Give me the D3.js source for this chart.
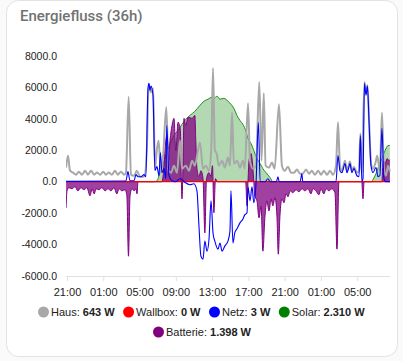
<!DOCTYPE html>
<html><head><meta charset="utf-8">
<script src="https://cdn.jsdelivr.net/npm/d3@7"></script>
<style>
html,body{margin:0;padding:0;background:#fafafa;}
svg{display:block;}
</style></head>
<body>
<svg id="chart" width="403" height="361"></svg>
<script>
// ---- DATA (time in hours after 21:00 of day 1, value in W) ----
const title = "Energiefluss (36h)";
const yTicks = [8000, 6000, 4000, 2000, 0, -2000, -4000, -6000];
const xTickHours = [0, 4, 8, 12, 16, 20, 24, 28, 32];
const xTickLabels = ["21:00","01:00","05:00","09:00","13:00","17:00","21:00","01:00","05:00"];

const seriesNames = ["Haus", "Wallbox", "Netz", "Solar", "Batterie"];
const seriesColors = ["#a8a8a8", "#ff0000", "#0000ff", "#008000", "#800080"];
const legendValues = ["643 W", "0 W", "3 W", "2.310 W", "1.398 W"];

const hausData = [
[-0.1,900],[0.11,1660],[0.33,700],[0.66,580],[1.0,450],[1.3,640],[1.65,450],[2.0,700],[2.3,450],[2.65,700],
[3.0,450],[3.3,580],[3.65,450],[4.0,640],[4.3,450],[4.6,580],[4.95,450],[5.3,700],[5.6,450],[5.95,640],
[6.3,450],[6.5,580],[6.8,5400],[7.05,450],[7.4,380],[7.7,700],[8.05,320],[8.5,320],[8.8,2000],[9.0,6200],
[9.26,5700],[9.5,5950],[9.7,830],[9.9,2000],[10.1,2600],[10.35,600],[10.6,1650],[10.95,4740],[11.2,700],
[11.47,576],[11.8,1020],[12.13,576],[12.46,2620],[12.68,830],[13.1,1020],[13.45,700],[13.8,1340],[14.1,1020],
[14.44,1980],[14.66,2500],[15.0,830],[15.3,1020],[15.65,700],[15.9,2000],[16.1,7230],[16.3,2000],[16.5,1790],
[16.75,1020],[17.1,1340],[17.4,900],[17.75,1540],[17.97,1020],[18.2,4400],[18.4,1150],[18.75,1340],[19.07,900],
[19.4,1340],[19.6,830],[19.96,5000],[20.18,1340],[20.5,830],[20.84,1020],[21.2,6340],[21.45,1340],[21.7,5630],
[21.9,1020],[22.27,900],[22.6,1220],[22.9,830],[23.37,4930],[23.7,1020],[24.0,700],[24.37,960],[24.7,576],
[25.03,576],[25.36,770],[25.7,510],[26.0,510],[26.35,770],[26.7,510],[27.0,700],[27.34,450],[27.7,700],
[28.0,450],[28.33,700],[28.67,450],[29.0,700],[29.33,450],[29.66,1020],[29.88,3780],[30.1,1020],[30.32,700],
[30.65,1340],[30.87,700],[31.2,1280],[31.42,700],[31.64,960],[31.97,576],[32.2,700],[32.35,3070],[32.5,576],
[32.8,6340],[32.97,5630],[33.13,6140],[33.3,4030],[33.52,1220],[33.74,830],[34.07,1340],[34.2,1660],[34.5,700],
[34.73,4400],[34.95,830],[35.17,380],[35.4,1020],[35.6,643]
];

const wallboxData = [[-0.1,0],[4,0],[8,0],[12,0],[16,0],[20,0],[24,0],[28,0],[32,0],[35.6,0]];

const netzData = [
[-0.1,20],[6.5,50],[6.72,640],[6.95,60],[7.4,60],[7.6,450],[7.83,320],[8.16,320],[8.5,450],[8.7,320],
[8.93,5950],[9.04,6270],[9.15,5820],[9.26,6080],[9.48,5500],[9.7,700],[9.92,960],[10.14,380],[10.3,1860],
[10.47,576],[10.7,830],[10.9,190],[11.0,3580],[11.25,380],[11.6,60],[12.0,0],[12.46,190],[12.9,0],[13.56,-190],
[14.0,-130],[14.33,-580],[14.55,-2800],[14.77,-4740],[15.0,-4930],[15.2,-3780],[15.44,-4420],[15.66,-3650],
[15.88,-1220],[16.1,-3260],[16.3,-3780],[16.65,-4290],[16.87,-3900],[17.1,-4420],[17.4,-4100],[17.75,-3780],
[17.97,-3140],[18.08,-580],[18.3,-3900],[18.5,-3260],[18.74,-3000],[19.07,-2620],[19.4,-2370],[19.6,-2110],
[19.85,-1980],[19.96,-320],[20.18,-1220],[20.4,-320],[20.6,-1340],[20.84,-130],[21.1,3780],[21.3,0],[21.83,0],
[22.16,190],[22.4,0],[23.1,0],[23.26,320],[23.4,0],[25.7,0],[25.9,510],[26.0,0],[29.66,0],[29.88,1660],
[30.1,700],[30.32,576],[30.65,1150],[30.87,576],[31.04,830],[31.2,1150],[31.42,576],[31.64,830],[31.97,380],
[32.2,320],[32.35,2940],[32.52,0],[32.64,190],[32.8,6270],[32.97,5500],[33.13,6080],[33.3,3900],[33.52,1020],
[33.74,576],[34.07,900],[34.3,320],[34.5,380],[34.73,3400],[34.95,190],[35.17,0],[35.6,3]
];

const solarData = [
[-0.1,0],[9.7,0],[9.92,60],[10.25,576],[10.6,1150],[10.9,1660],[11.36,2430],[11.8,2940],[12.24,3260],
[12.68,3650],[13.1,3970],[13.56,4220],[14.1,4480],[14.66,4860],[15.1,5120],[15.55,5250],[16.0,5380],
[16.2,5310],[16.54,5440],[16.87,5250],[17.3,5310],[17.75,5120],[18.08,4930],[18.4,4670],[18.74,4220],
[19.07,3900],[19.4,3650],[19.74,3200],[19.96,2750],[20.3,2430],[20.6,1980],[20.95,1470],[21.3,1150],
[21.6,830],[21.95,576],[22.4,256],[22.7,0],[33.6,0],[33.74,130],[34.07,510],[34.4,1020],[34.73,1470],
[35.07,1980],[35.4,2300],[35.6,2310]
];

const batterieData = [
[-0.1,-1660],[0.0,-580],[0.22,-380],[0.55,-450],[0.88,-320],[1.2,-580],[1.54,-380],[1.87,-510],[2.2,-380],
[2.54,-900],[2.76,-450],[3.0,-770],[3.2,-450],[3.53,-510],[3.86,-380],[4.2,-580],[4.52,-450],[4.85,-580],
[5.18,-380],[5.5,-770],[5.73,-450],[6.06,-580],[6.4,-510],[6.6,-900],[6.78,-4740],[6.95,-900],[7.17,-450],
[7.4,-580],[7.6,-450],[7.72,-770],[7.83,0],[10.47,0],[10.6,380],[10.8,1980],[11.0,2940],[11.2,1340],
[11.36,2620],[11.58,3580],[11.8,4030],[12.0,1980],[12.24,3780],[12.5,3300],[12.6,320],[12.68,-1090],
[12.78,700],[12.9,4030],[13.1,3580],[13.34,4100],[13.8,4030],[14.1,4220],[14.2,2620],[14.33,830],[14.55,320],
[14.77,700],[15.0,190],[15.2,-3260],[15.38,190],[15.66,576],[15.88,320],[16.04,1020],[16.2,-1980],
[16.37,190],[16.6,0],[19.7,0],[19.85,-1540],[19.96,0],[20.07,1340],[20.3,1790],[20.4,1470],[20.6,0],
[20.7,-900],[20.95,-1220],[21.17,-2300],[21.4,-1540],[21.6,-4420],[21.83,-2180],[22.05,-1220],[22.27,-1860],
[22.5,-1090],[22.7,-1540],[22.93,-1020],[23.15,-2180],[23.3,-4610],[23.48,-2180],[23.7,-1090],[23.93,-1340],
[24.15,-770],[24.37,-960],[24.6,-580],[24.9,-700],[25.25,-510],[25.58,-640],[25.9,-450],[26.24,-580],
[26.57,-450],[26.9,-770],[27.12,-450],[27.45,-580],[27.78,-830],[28.0,-450],[28.33,-770],[28.56,-450],
[28.9,-580],[29.2,-450],[29.55,-700],[29.77,-4290],[29.99,0],[32.5,0],[32.64,-1090],[32.76,0],[34.73,0],
[34.84,1340],[35.07,1150],[35.3,1470],[35.5,1340],[35.6,1398]
];

// ---- DRAW ----
const svg = d3.select("#chart");
svg.append("rect").attr("x",6.5).attr("y",0.5).attr("width",391).attr("height",356)
  .attr("rx",12).attr("fill","#fff").attr("stroke","#e2e2e2");
svg.append("text").attr("x",20).attr("y",21).text(title)
  .attr("font-family","Roboto").attr("font-size",15).attr("font-weight",500).attr("fill","#727272");

const x = d3.scaleLinear().domain([0,32]).range([67,357.2]);
const y = d3.scaleLinear().domain([-6000,8000]).range([276,56]);
const font = "'Liberation Sans', Arial, sans-serif";

// y labels
svg.append("g").selectAll("text").data(yTicks).join("text")
  .attr("x",57).attr("y",d=>y(d)).attr("dy","0.35em").attr("text-anchor","end")
  .attr("font-family",font).attr("font-size",10.5).attr("fill","#222")
  .text(d=>d3.format(".1f")(d).replace("−","-"));

// x axis
const xAxis = d3.axisBottom(x).tickValues(xTickHours).tickFormat((d,i)=>xTickLabels[i]).tickSize(5).tickPadding(7);
const gx = svg.append("g").attr("transform","translate(0,276)").call(xAxis);
gx.select(".domain").attr("stroke","#e0e0e0").attr("d","M66,0.5H390");
gx.selectAll(".tick line").attr("stroke","#e0e0e0");
gx.selectAll(".tick text").attr("font-family",font).attr("font-size",11).attr("fill","#222");

svg.append("clipPath").attr("id","cp").append("rect")
  .attr("x",66).attr("y",40).attr("width",325).attr("height",240);
const plot = svg.append("g").attr("clip-path","url(#cp)");

const curve = d3.curveMonotoneX;
const area = d3.area().x(d=>x(d[0])).y0(y(0)).y1(d=>y(d[1])).curve(curve);
const line = d3.line().x(d=>x(d[0])).y(d=>y(d[1])).curve(curve);

plot.append("path").datum(solarData).attr("d",area).attr("fill","#008000").attr("fill-opacity",0.3);
plot.append("path").datum(solarData).attr("d",line).attr("fill","none").attr("stroke","#1f8f1f").attr("stroke-width",1);
plot.append("path").datum(batterieData).attr("d",area).attr("fill","#800080").attr("fill-opacity",0.75);
plot.append("path").datum(batterieData).attr("d",line).attr("fill","none").attr("stroke","#800080").attr("stroke-width",1);
plot.append("path").datum(hausData).attr("d",line).attr("fill","none").attr("stroke","#a8a8a8").attr("stroke-width",2);
plot.append("path").datum(wallboxData).attr("d",line).attr("fill","none").attr("stroke","#ff0000").attr("stroke-width",1.2);
plot.append("path").datum(netzData).attr("d",line).attr("fill","none").attr("stroke","#0000ff").attr("stroke-width",1.1);

// legend
const rows = [[0,1,2,3],[4]];
const rowY = [312, 332];
rows.forEach((row, ri) => {
  const g = svg.append("g");
  let cx = 0;
  row.forEach(i => {
    const item = g.append("g").attr("transform",`translate(${cx},0)`);
    item.append("circle").attr("cx",5.5).attr("cy",0).attr("r",5.5).attr("fill",seriesColors[i]);
    const t = item.append("text").attr("x",13).attr("y",0).attr("dy","0.35em")
      .attr("font-family",font).attr("font-size",11).attr("fill","#222");
    t.append("tspan").text(seriesNames[i] + ": ");
    t.append("tspan").attr("font-weight","bold").text(legendValues[i]);
    const w = 13 + t.node().getComputedTextLength();
    cx += w + 8.5;
  });
  const total = cx - 8.5;
  g.attr("transform",`translate(${Math.round(201.5 - total/2)},${rowY[ri]})`);
});
</script>
</body></html>
